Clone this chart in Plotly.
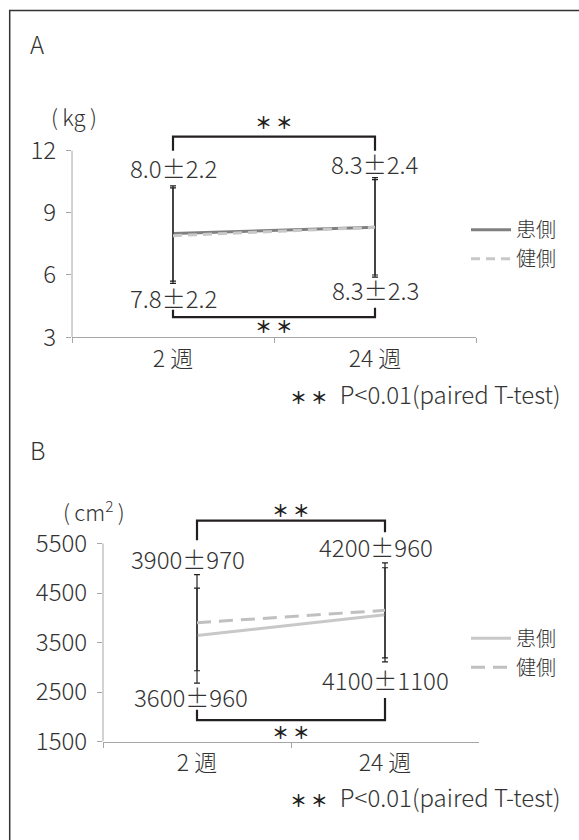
import plotly.graph_objects as go

W, H = 579, 840

# ---------------- data ----------------
weeks = ["2 週", "24 週"]

# A: grip strength (kg)
a_affected_mean = [8.0, 8.3]
a_affected_sd = [2.3, 2.4]
a_healthy_mean = [7.9, 8.3]
a_healthy_sd = [2.3, 2.3]
a_labels_top = ["8.0±2.2", "8.3±2.4"]
a_labels_bottom = ["7.8±2.2", "8.3±2.3"]
a_yticks = [3, 6, 9, 12]

# B: area (cm2)
b_affected_mean = [3640, 4060]
b_affected_sd = [960, 950]
b_healthy_mean = [3900, 4150]
b_healthy_sd = [970, 960]
b_labels_top = ["3900±970", "4200±960"]
b_labels_bottom = ["3600±960", "4100±1100"]
b_yticks = [1500, 2500, 3500, 4500, 5500]

series_names = ["患側", "健側"]
footnote = "P<0.01(paired T-test)"

# ---------------- style ----------------
FONT = "Noto Sans CJK JP"
TXT = "#333333"
AXC = "#a6a6a6"
BLK = "#231f20"


def px_x(p):
    return p / W


def px_y(p):
    return 1 - p / H


fig = go.Figure()

# --- panel A traces ---
fig.add_trace(go.Scatter(
    x=weeks, y=a_affected_mean, name=series_names[0], mode="lines",
    line=dict(color="#808080", width=3),
    error_y=dict(type="data", array=a_affected_sd, visible=True, color=BLK, thickness=1.2, width=3),
    xaxis="x", yaxis="y", legend="legend"))
fig.add_trace(go.Scatter(
    x=weeks, y=a_healthy_mean, name=series_names[1], mode="lines",
    line=dict(color="#c8c8c8", width=3, dash="9px,6px"),
    error_y=dict(type="data", array=a_healthy_sd, visible=True, color=BLK, thickness=1.2, width=3),
    xaxis="x", yaxis="y", legend="legend"))

# --- panel B traces ---
fig.add_trace(go.Scatter(
    x=weeks, y=b_affected_mean, name=series_names[0], mode="lines",
    line=dict(color="#c8c8c8", width=3),
    error_y=dict(type="data", array=b_affected_sd, visible=True, color=BLK, thickness=1.2, width=3),
    xaxis="x2", yaxis="y2", legend="legend2"))
fig.add_trace(go.Scatter(
    x=weeks, y=b_healthy_mean, name=series_names[1], mode="lines",
    line=dict(color="#c0c0c0", width=3, dash="14px,8px"),
    error_y=dict(type="data", array=b_healthy_sd, visible=True, color=BLK, thickness=1.2, width=3),
    xaxis="x2", yaxis="y2", legend="legend2"))

# --- significance brackets (as line traces) ---
def bracket(xa, ya, y_line, y_left, y_right):
    fig.add_trace(go.Scatter(
        x=[weeks[0], weeks[0], weeks[1], weeks[1]],
        y=[y_left, y_line, y_line, y_right],
        mode="lines", line=dict(color=BLK, width=2.2),
        showlegend=False, hoverinfo="skip", xaxis=xa, yaxis=ya))

bracket("x", "y", 12.68, 12.0, 12.0)
bracket("x", "y", 3.97, 4.32, 4.42)
bracket("x2", "y2", 5964, 5567, 5730)
bracket("x2", "y2", 1931, 2141, 2379)

annotations = []

def ann(text, x, y, xref, yref, size=22, xanchor="center", xshift=0, color=TXT):
    annotations.append(dict(text=text, x=x, y=y, xref=xref, yref=yref, showarrow=False,
                            xanchor=xanchor, yanchor="middle", xshift=xshift,
                            font=dict(family=FONT, size=size, color=color, weight=300)))

# value labels A
ann(a_labels_top[0], weeks[0], 11.18, "x", "y", 24)
ann(a_labels_top[1], weeks[1], 11.37, "x", "y", 24)
ann(a_labels_bottom[0], weeks[0], 4.89, "x", "y", 24)
ann(a_labels_bottom[1], weeks[1], 5.28, "x", "y", 24)
# value labels B
ann(b_labels_top[0], weeks[0], 5204, "x2", "y2", 24, xshift=-9)
ann(b_labels_top[1], weeks[1], 5434, "x2", "y2", 24, xshift=-9)
ann(b_labels_bottom[0], weeks[0], 2407, "x2", "y2", 24, xshift=-6)
ann(b_labels_bottom[1], weeks[1], 2756, "x2", "y2", 24)

# asterisks
STAR = "<b>＊ ＊</b>"
ann(STAR, 0.5, 13.42, "x", "y", 17, color=BLK)
ann(STAR, 0.5, 3.55, "x", "y", 17, color=BLK)
ann(STAR, 0.5, 6196, "x2", "y2", 17, color=BLK)
ann(STAR, 0.5, 1698, "x2", "y2", 17, color=BLK)

# panel letters, units, footnotes
ann("A", px_x(28), px_y(44), "paper", "paper", 24, xanchor="left")
ann("B", px_x(28), px_y(458), "paper", "paper", 24, xanchor="left")
ann("(\u2009kg\u2009)", px_x(74), px_y(118), "paper", "paper", 22)
ann("(\u2009cm<sup>2</sup>\u2009)", px_x(94), px_y(520), "paper", "paper", 22)
FOOT = ('<span style="font-size:17px;font-weight:bold;color:%s">＊ ＊</span>\u2002%s'
        % (BLK, footnote))
for yy in (401, 811):
    ann(FOOT, px_x(563), px_y(yy), "paper", "paper", 24, xanchor="right")

shapes = [
    # outer frame (only left/top visible)
    dict(type="rect", xref="paper", yref="paper", x0=px_x(9.7), x1=1.1, y0=-0.1, y1=px_y(10.7),
         line=dict(color="#333333", width=1.5), fillcolor="rgba(0,0,0,0)", layer="above"),
    # y axis lines, limited to the tick span
    dict(type="line", xref="x domain", yref="y", x0=0, x1=0, y0=a_yticks[0], y1=a_yticks[-1],
         line=dict(color=AXC, width=1), layer="below"),
    dict(type="line", xref="x2 domain", yref="y2", x0=0, x1=0, y0=b_yticks[0], y1=b_yticks[-1],
         line=dict(color=AXC, width=1), layer="below"),
]

tickfont = dict(family=FONT, size=24, color=TXT, weight=300)
xtickfont = dict(family=FONT, size=23, color=TXT, weight=300)

xaxis_common = dict(type="category", range=[-0.5, 1.5], showline=True, linecolor=AXC, linewidth=1,
                    ticks="outside", tickson="boundaries", ticklen=5, tickcolor=AXC,
                    tickfont=xtickfont, showgrid=False, zeroline=False, fixedrange=True,
                    ticklabelstandoff=1)
yaxis_common = dict(showline=False, ticks="outside", ticklen=5, tickcolor=AXC,
                    tickfont=tickfont, showgrid=False, zeroline=False, ticklabelstandoff=5)

A_TOP = 13.8
B_TOP = 6350
fig.update_layout(
    width=W, height=H,
    margin=dict(l=0, r=0, t=0, b=0),
    paper_bgcolor="white", plot_bgcolor="rgba(0,0,0,0)",
    font=dict(family=FONT, color=TXT),
    xaxis=dict(domain=[px_x(72), px_x(476)], anchor="y", **xaxis_common),
    yaxis=dict(domain=[px_y(343.3), px_y(343.3 - (A_TOP - 3) * 21.1)], range=[3, A_TOP],
               tickvals=a_yticks, anchor="x", **yaxis_common),
    xaxis2=dict(domain=[px_x(103), px_x(479)], anchor="y2", **xaxis_common),
    yaxis2=dict(domain=[px_y(755), px_y(755 - (B_TOP - 1500) * 0.0504)], range=[1500, B_TOP],
                tickvals=b_yticks, anchor="x2", **yaxis_common),
    legend=dict(x=px_x(466), y=px_y(214), xanchor="left", yanchor="top",
                bgcolor="rgba(0,0,0,0)", font=dict(family=FONT, size=20, color=TXT, weight=300),
                itemwidth=40, tracegroupgap=0),
    legend2=dict(x=px_x(466), y=px_y(630), xanchor="left", yanchor="top",
                 bgcolor="rgba(0,0,0,0)", font=dict(family=FONT, size=20, color=TXT, weight=300),
                 itemwidth=40, tracegroupgap=0),
    annotations=annotations,
    shapes=shapes,
    showlegend=True,
)

fig.write_html("out.html", config={"displayModeBar": False},
               post_script="document.body.style.margin='0';")
